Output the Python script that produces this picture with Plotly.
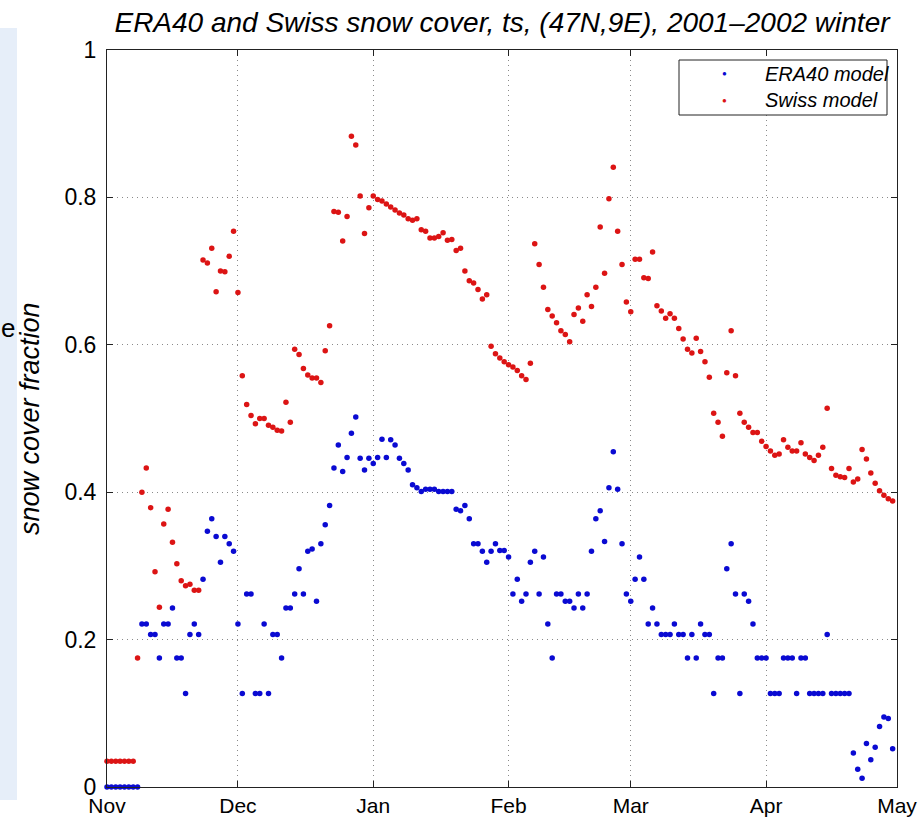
import pandas as pd
import plotly.graph_objects as go

# ---- data (daily values, starting 1 Nov 2001) ----
start_date = "2001-11-01"
month_ticks = ["2001-11-01", "2001-12-01", "2002-01-01", "2002-02-01",
               "2002-03-01", "2002-04-01", "2002-05-01"]
month_labels = ["Nov", "Dec", "Jan", "Feb", "Mar", "Apr", "May"]
y_ticks = [0, 0.2, 0.4, 0.6, 0.8, 1]
y_labels = ["0", "0.2", "0.4", "0.6", "0.8", "1"]

era40 = [
    0.0, 0.0, 0.0, 0.0, 0.0, 0.0, 0.0, 0.0, 0.221, 0.221,
    0.207, 0.207, 0.175, 0.221, 0.221, 0.243, 0.175, 0.175, 0.127, 0.207,
    0.221, 0.207, 0.282, 0.347, 0.364, 0.340, 0.305, 0.340, 0.330, 0.320,
    0.221, 0.127, 0.262, 0.262, 0.127, 0.127, 0.221, 0.127, 0.207, 0.207,
    0.175, 0.243, 0.243, 0.262, 0.296, 0.262, 0.320, 0.323, 0.252, 0.330,
    0.356, 0.382, 0.433, 0.464, 0.428, 0.447, 0.480, 0.502, 0.446, 0.430,
    0.446, 0.439, 0.447, 0.472, 0.447, 0.471, 0.464, 0.446, 0.439, 0.430,
    0.410, 0.406, 0.401, 0.404, 0.404, 0.404, 0.401, 0.401, 0.401, 0.401,
    0.377, 0.375, 0.382, 0.364, 0.330, 0.330, 0.320, 0.305, 0.320, 0.330,
    0.321, 0.321, 0.312, 0.262, 0.282, 0.252, 0.262, 0.305, 0.320, 0.262,
    0.312, 0.221, 0.175, 0.262, 0.262, 0.252, 0.252, 0.243, 0.262, 0.243,
    0.262, 0.320, 0.364, 0.375, 0.333, 0.406, 0.455, 0.404, 0.330, 0.262,
    0.252, 0.282, 0.312, 0.282, 0.221, 0.243, 0.221, 0.207, 0.207, 0.207,
    0.221, 0.207, 0.207, 0.175, 0.207, 0.175, 0.221, 0.207, 0.207, 0.127,
    0.175, 0.175, 0.296, 0.330, 0.262, 0.127, 0.262, 0.252, 0.221, 0.175,
    0.175, 0.175, 0.127, 0.127, 0.127, 0.175, 0.175, 0.175, 0.127, 0.175,
    0.175, 0.127, 0.127, 0.127, 0.127, 0.207, 0.127, 0.127, 0.127, 0.127,
    0.127, 0.046, 0.024, 0.012, 0.059, 0.037, 0.054, 0.082, 0.095, 0.093,
    0.052,
]

swiss = [
    0.035, 0.035, 0.035, 0.035, 0.035, 0.035, 0.035, 0.175, 0.400, 0.433,
    0.379, 0.292, 0.244, 0.357, 0.377, 0.332, 0.303, 0.280, 0.273, 0.275,
    0.267, 0.267, 0.715, 0.711, 0.731, 0.672, 0.700, 0.699, 0.720, 0.754,
    0.671, 0.558, 0.519, 0.504, 0.493, 0.500, 0.500, 0.491, 0.488, 0.484,
    0.483, 0.522, 0.495, 0.594, 0.587, 0.568, 0.559, 0.555, 0.555, 0.549,
    0.592, 0.626, 0.781, 0.780, 0.741, 0.774, 0.883, 0.871, 0.802, 0.751,
    0.786, 0.802, 0.797, 0.795, 0.791, 0.787, 0.783, 0.779, 0.776, 0.771,
    0.769, 0.771, 0.756, 0.754, 0.745, 0.745, 0.747, 0.752, 0.742, 0.743,
    0.728, 0.731, 0.700, 0.687, 0.684, 0.675, 0.662, 0.668, 0.598, 0.588,
    0.582, 0.577, 0.573, 0.570, 0.565, 0.558, 0.553, 0.575, 0.737, 0.709,
    0.678, 0.648, 0.639, 0.630, 0.619, 0.614, 0.604, 0.641, 0.650, 0.632,
    0.668, 0.652, 0.678, 0.760, 0.697, 0.798, 0.841, 0.754, 0.709, 0.658,
    0.645, 0.716, 0.716, 0.691, 0.690, 0.726, 0.653, 0.646, 0.636, 0.642,
    0.636, 0.622, 0.608, 0.594, 0.589, 0.609, 0.591, 0.577, 0.556, 0.507,
    0.495, 0.476, 0.562, 0.619, 0.558, 0.507, 0.495, 0.488, 0.481, 0.481,
    0.469, 0.462, 0.456, 0.450, 0.452, 0.471, 0.461, 0.456, 0.456, 0.467,
    0.452, 0.447, 0.443, 0.450, 0.461, 0.514, 0.432, 0.423, 0.421, 0.420,
    0.432, 0.414, 0.418, 0.458, 0.445, 0.426, 0.412, 0.402, 0.396, 0.391,
    0.388,
]

series_names = ["ERA40 model", "Swiss model"]
series_colors = ["#0a0ad2", "#dc1414"]

dates = pd.date_range(start_date, periods=len(era40), freq="D")

# ---- layout geometry (pixels) ----
W, H = 918, 820
L, R, T, B = 107, 21, 50, 33
PW, PH = W - L - R, H - T - B


def px_x(px):
    return (px - L) / PW


def px_y(py):
    return (H - B - py) / PH


FONT = "Liberation Sans, Arial, Helvetica, sans-serif"

fig = go.Figure()
for name, vals, col in zip(series_names, [era40, swiss], series_colors):
    fig.add_trace(go.Scatter(
        x=dates, y=vals, mode="markers", name=name,
        marker=dict(color=col, size=5.5, line=dict(width=0)),
        cliponaxis=False, showlegend=False,
    ))

axis_common = dict(
    showline=True, linecolor="#222222", linewidth=1, mirror="ticks",
    ticks="inside", ticklen=6, tickcolor="#222222", tickwidth=1,
    showgrid=True, gridcolor="#8a8a8a", griddash="1px,4px", gridwidth=1,
    zeroline=False, automargin=False,
)

fig.update_xaxes(
    range=[month_ticks[0], month_ticks[-1]], tickvals=month_ticks,
    ticktext=month_labels, ticklabelstandoff=0,
    tickfont=dict(family=FONT, size=21, color="black"), **axis_common,
)
fig.update_yaxes(
    range=[0, 1], tickvals=y_ticks, ticktext=y_labels, ticklabelstandoff=5,
    tickfont=dict(family=FONT, size=23, color="black"), **axis_common,
)

shapes = [
    # light strip at the left edge of the screenshot
    dict(type="rect", xref="paper", yref="paper",
         x0=px_x(0), x1=px_x(17), y0=px_y(800), y1=px_y(28),
         fillcolor="#e6eef9", line=dict(width=0), layer="below"),
    # legend box
    dict(type="rect", xref="paper", yref="paper",
         x0=px_x(679), x1=px_x(887), y0=px_y(115), y1=px_y(60),
         fillcolor="white", line=dict(color="#222222", width=1), layer="above"),
]

annotations = [
    dict(text="snow cover fraction", xref="paper", yref="paper",
         x=px_x(30), y=px_y(419), textangle=-90, showarrow=False,
         xanchor="center", yanchor="middle",
         font=dict(family=FONT, size=27, color="black", style="italic")),
    dict(text="e", xref="paper", yref="paper", x=px_x(0), y=px_y(328),
         showarrow=False, xanchor="left", yanchor="middle", borderpad=0,
         font=dict(family=FONT, size=26, color="black")),
]
leg_rows = [74, 100]
for name, col, ry in zip(series_names, series_colors, leg_rows):
    annotations.append(dict(
        text="●", xref="paper", yref="paper", x=px_x(724), y=px_y(ry),
        showarrow=False, xanchor="center", yanchor="middle",
        font=dict(family=FONT, size=8, color=col)))
    annotations.append(dict(
        text=name, xref="paper", yref="paper", x=px_x(763), y=px_y(ry),
        showarrow=False, xanchor="left", yanchor="middle",
        font=dict(family=FONT, size=20, color="black", style="italic")))

fig.update_layout(
    width=W, height=H,
    margin=dict(l=L, r=R, t=T, b=B, pad=0, autoexpand=False),
    paper_bgcolor="white", plot_bgcolor="white",
    title=dict(
        text="ERA40 and Swiss snow cover, ts, (47N,9E), 2001–2002 winter",
        x=502 / W, xref="container", xanchor="center",
        y=1 - 22 / H, yref="container", yanchor="middle", automargin=False,
        font=dict(family=FONT, size=28, color="black", style="italic"),
    ),
    shapes=shapes, annotations=annotations,
    showlegend=False,
)

fig.write_html("out.html")
